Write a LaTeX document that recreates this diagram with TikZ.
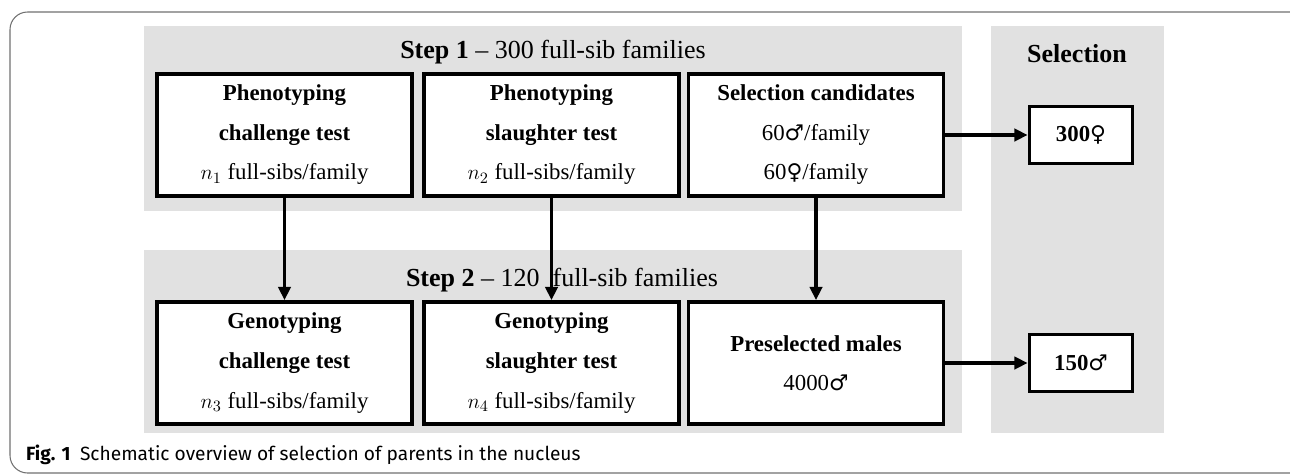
\documentclass[tikz,border=0pt]{standalone}
\usepackage{fontspec}
\setmainfont{Liberation Serif}
\newfontfamily\capfont{Fira Sans}
\newfontfamily\sexfont[Scale=0.95]{DejaVu Sans}
\newcommand{\msym}{{\sexfont ♂}}
\newcommand{\fsym}{{\sexfont ♀}}
\usetikzlibrary{positioning, arrows.meta}
\definecolor{panelgray}{HTML}{E1E1E1}
\definecolor{framegray}{HTML}{707070}
\begin{document}
\begin{tikzpicture}[x=0.02cm, y=-0.02cm]
	\tikzset{
		stage/.style={draw, line width=2.2pt, fill=white, minimum width=5.1cm, minimum height=2.44cm, align=center, inner sep=0pt, font=\fontsize{13}{22.5}\selectfont, execute at begin node={\rule{0pt}{14pt}}},
		pick/.style={draw, line width=2.2pt, fill=white, minimum width=2.06cm, minimum height=1.14cm, inner sep=0pt, font=\fontsize{13}{22.5}\selectfont},
		flow/.style={line width=1.9pt, -{Triangle[length=7.5pt, width=7pt]}},
		heading/.style={font=\fontsize{14.8}{17}\selectfont}
	}
	\useasboundingbox (0,0) rectangle (1290,474);
	\draw[framegray, line width=0.6pt, rounded corners=10pt] (1300,12) -- (10,12) -- (10,473) -- (1300,473);
	% grey panels
	\fill[panelgray] (144,26) rectangle (962,211);
	\fill[panelgray] (144,250) rectangle (962,433);
	\fill[panelgray] (991,26) rectangle (1164,433);
	\node[heading] (step1) at (553,52) {\textbf{Step 1} -- 300 full-sib families};
	\node[heading] (step2) at (562,280) {\textbf{Step 2} -- 120\ \ full-sib families};
	\node[heading] (sel) at (1077,54) {\textbf{Selection}};
	% step 1
	\node[stage] (phenoC) at (284.5,135) {\textbf{Phenotyping}\\\textbf{challenge test}\\$n_1$ full-sibs/family};
	\node[stage] (phenoS) at (551.5,135) {\textbf{Phenotyping}\\\textbf{slaughter test}\\$n_2$ full-sibs/family};
	\node[stage] (cand) at (816,135) {\textbf{Selection candidates}\\60\msym/family\\60\fsym/family};
	% step 2
	\node[stage] (genoC) at (284.5,363) {\textbf{Genotyping}\\\textbf{challenge test}\\$n_3$ full-sibs/family};
	\node[stage] (genoS) at (551.5,363) {\textbf{Genotyping}\\\textbf{slaughter test}\\$n_4$ full-sibs/family};
	\node[stage] (presel) at (816,363) {\textbf{Preselected males}\\4000\msym};
	% selected parents
	\node[pick] (females) at (1081,135) {\textbf{300}\fsym};
	\node[pick] (males) at (1081,363) {\textbf{150}\msym};
	\draw[flow] (phenoC) -- (genoC);
	\draw[flow] (phenoS) -- (genoS);
	\draw[flow] (cand) -- (presel);
	\draw[flow] (cand) -- (females);
	\draw[flow] (presel) -- (males);
	\node[anchor=west, font=\capfont\fontsize{10.9}{12}\selectfont] (caption) at (20,455) {\textbf{Fig. 1}\enspace Schematic overview of selection of parents in the nucleus};
\end{tikzpicture}
\end{document}
